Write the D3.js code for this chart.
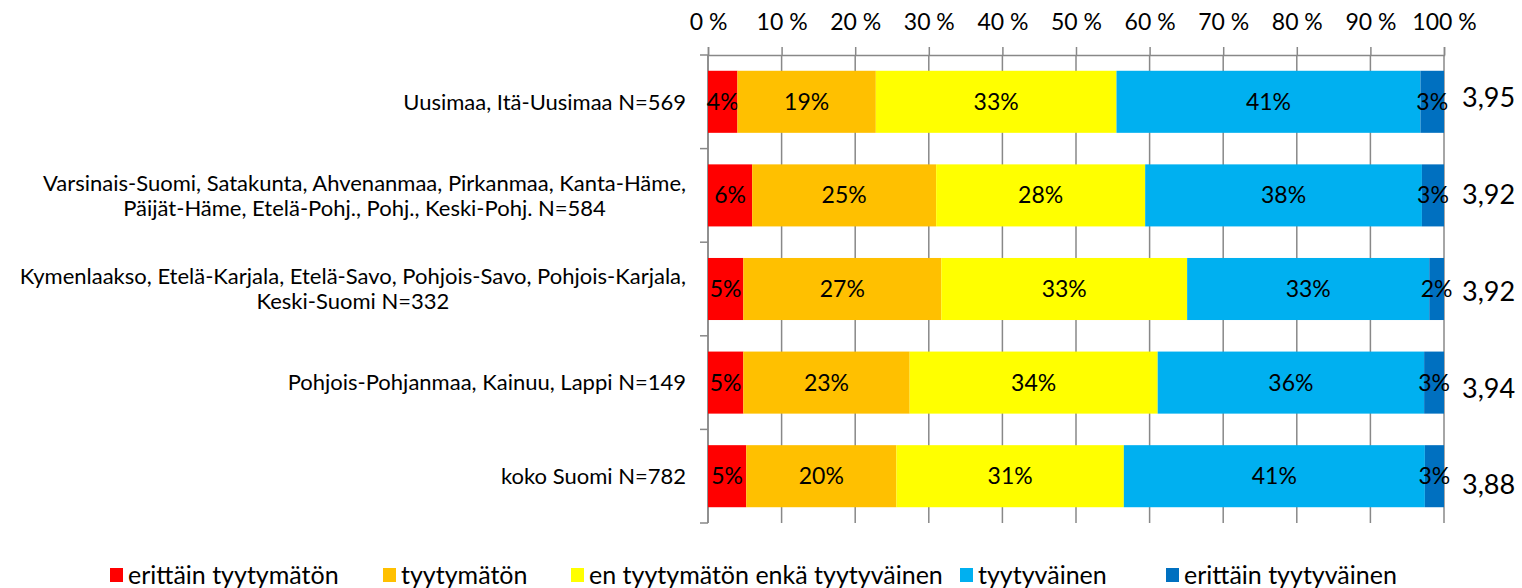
<!DOCTYPE html>
<html>
<head>
<meta charset="utf-8">
<script src="https://cdn.jsdelivr.net/npm/d3@7"></script>
<style>
  body { margin: 0; background: #fff; }
  svg { display: block; font-family: Lato, "Open Sans", sans-serif; }
</style>
</head>
<body>
<div id="chart"></div>
<script>
// categories (each one split into its lines)
var categories = [
    ["Uusimaa, Itä-Uusimaa N=569"],
    ["Varsinais-Suomi, Satakunta, Ahvenanmaa, Pirkanmaa, Kanta-Häme,", "Päijät-Häme, Etelä-Pohj., Pohj., Keski-Pohj. N=584"],
    ["Kymenlaakso, Etelä-Karjala, Etelä-Savo, Pohjois-Savo, Pohjois-Karjala,", "Keski-Suomi N=332"],
    ["Pohjois-Pohjanmaa, Kainuu, Lappi N=149"],
    ["koko Suomi N=782"]
];

var seriesNames = ["erittäin tyytymätön", "tyytymätön", "en tyytymätön enkä tyytyväinen", "tyytyväinen", "erittäin tyytyväinen"];

// shares in percent, one array per series (same order as categories)
var erittainTyytymaton = [4.0, 6.0, 4.8, 4.8, 5.2];
var tyytymaton         = [18.8, 25.0, 26.9, 22.6, 20.4];
var enEnka             = [32.7, 28.4, 33.4, 33.7, 30.9];
var tyytyvainen        = [41.3, 37.6, 32.9, 36.2, 40.9];
var erittainTyytyvainen = [3.2, 3.0, 2.0, 2.7, 2.6];

var means = ["3,95", "3,92", "3,92", "3,94", "3,88"];

var ticks = [0, 10, 20, 30, 40, 50, 60, 70, 80, 90, 100];

var colors = ["#ff0000", "#ffc000", "#ffff00", "#00b0f0", "#0070c0"];

var width = 1522, height = 588;
var margin = {top: 55, right: 78, bottom: 65, left: 708};

var svg = d3.select("#chart").append("svg")
    .attr("width", width)
    .attr("height", height);

var x = d3.scaleLinear().domain([0, 100]).range([margin.left, width - margin.right]);
var y = d3.scaleBand()
    .domain(d3.range(categories.length))
    .range([margin.top, height - margin.bottom])
    .paddingInner(0.337)
    .paddingOuter(0.1685);

// the mean labels sit a bit lower than the bars as you go down (like in the original)
var yMean = d3.scalePoint()
    .domain(d3.range(means.length))
    .range([98, 485]);

// build stacked rows
var seriesValues = [erittainTyytymaton, tyytymaton, enEnka, tyytyvainen, erittainTyytyvainen];
var rows = categories.map(function(c, i) {
    var r = {i: i};
    seriesNames.forEach(function(s, k) { r[s] = seriesValues[k][i]; });
    return r;
});
var stacked = d3.stack().keys(seriesNames)(rows);

// gridlines
svg.append("g")
    .selectAll("line")
    .data(ticks)
    .join("line")
    .attr("x1", function(d) { return x(d); })
    .attr("x2", function(d) { return x(d); })
    .attr("y1", margin.top)
    .attr("y2", height - margin.bottom)
    .attr("stroke", "#888")
    .attr("stroke-width", 1.5);

// top axis
var xAxis = d3.axisTop(x)
    .tickValues(ticks)
    .tickSize(8)
    .tickPadding(17)
    .tickFormat(function(d) { return d + " %"; });

var gx = svg.append("g")
    .attr("transform", "translate(0," + margin.top + ")")
    .call(xAxis);
gx.select(".domain").attr("stroke", "#888").attr("stroke-width", 1.5);
gx.selectAll(".tick line").attr("stroke", "#888").attr("stroke-width", 1.5);
gx.selectAll(".tick text")
    .attr("fill", "#000")
    .style("font-size", "23px")
    .style("font-family", "Lato, sans-serif");

// left axis line with ticks at band boundaries
var bounds = d3.range(categories.length + 1).map(function(i) {
    return margin.top + i * y.step();
});
svg.append("line")
    .attr("x1", x(0)).attr("x2", x(0))
    .attr("y1", margin.top).attr("y2", height - margin.bottom)
    .attr("stroke", "#888").attr("stroke-width", 1.5);
svg.append("g")
    .selectAll("line")
    .data(bounds)
    .join("line")
    .attr("x1", x(0) - 8).attr("x2", x(0))
    .attr("y1", function(d) { return d; })
    .attr("y2", function(d) { return d; })
    .attr("stroke", "#888").attr("stroke-width", 1.5);

// bars
var layers = svg.append("g")
    .selectAll("g")
    .data(stacked)
    .join("g")
    .attr("fill", function(d, k) { return colors[k]; });

layers.selectAll("rect")
    .data(function(d) { return d; })
    .join("rect")
    .attr("x", function(d) { return x(d[0]); })
    .attr("width", function(d) { return x(d[1]) - x(d[0]); })
    .attr("y", function(d) { return y(d.data.i); })
    .attr("height", y.bandwidth());

// data labels
layers.selectAll("text")
    .data(function(d) { return d; })
    .join("text")
    .attr("x", function(d) { return (x(d[0]) + x(d[1])) / 2; })
    .attr("y", function(d) { return y(d.data.i) + y.bandwidth() / 2; })
    .attr("dy", "0.35em")
    .attr("text-anchor", "middle")
    .attr("fill", "#000")
    .style("font-size", "23px")
    .text(function(d) { return Math.round(d[1] - d[0]) + "%"; });

// category labels: lines centred on each other, block right-aligned to the axis
var labelRight = x(0) - 22;
var catLabels = svg.append("g")
    .selectAll("text")
    .data(categories)
    .join("text")
    .attr("text-anchor", "middle")
    .attr("fill", "#000")
    .style("font-size", "22px");
catLabels.selectAll("tspan")
    .data(function(d) { return d; })
    .join("tspan")
    .attr("x", 0)
    .attr("y", function(d, j) { return j * 25; })
    .attr("dy", "0.35em")
    .text(function(d) { return d; });
catLabels.attr("transform", function(d, i) {
    var w = d3.max(d3.select(this).selectAll("tspan").nodes(), function(n) { return n.getComputedTextLength(); });
    var cy = y(i) + y.bandwidth() / 2 - (d.length - 1) * 12.5;
    return "translate(" + (labelRight - w / 2) + "," + cy + ")";
});

// mean values on the right
svg.append("g")
    .selectAll("text")
    .data(means)
    .join("text")
    .attr("x", x(100) + 18)
    .attr("y", function(d, i) { return yMean(i); })
    .attr("dy", "0.35em")
    .attr("fill", "#000")
    .style("font-size", "27px")
    .text(function(d) { return d; });

// legend
var legendX = [110, 383, 571, 960, 1166];
var legend = svg.append("g")
    .selectAll("g")
    .data(seriesNames)
    .join("g")
    .attr("transform", function(d, k) { return "translate(" + legendX[k] + ",568)"; });
legend.append("rect")
    .attr("width", 13).attr("height", 14)
    .attr("fill", function(d, k) { return colors[k]; });
legend.append("text")
    .attr("x", 18)
    .attr("y", 7)
    .attr("dy", "0.35em")
    .attr("fill", "#000")
    .style("font-size", "25px")
    .text(function(d) { return d; });
</script>
</body>
</html>
